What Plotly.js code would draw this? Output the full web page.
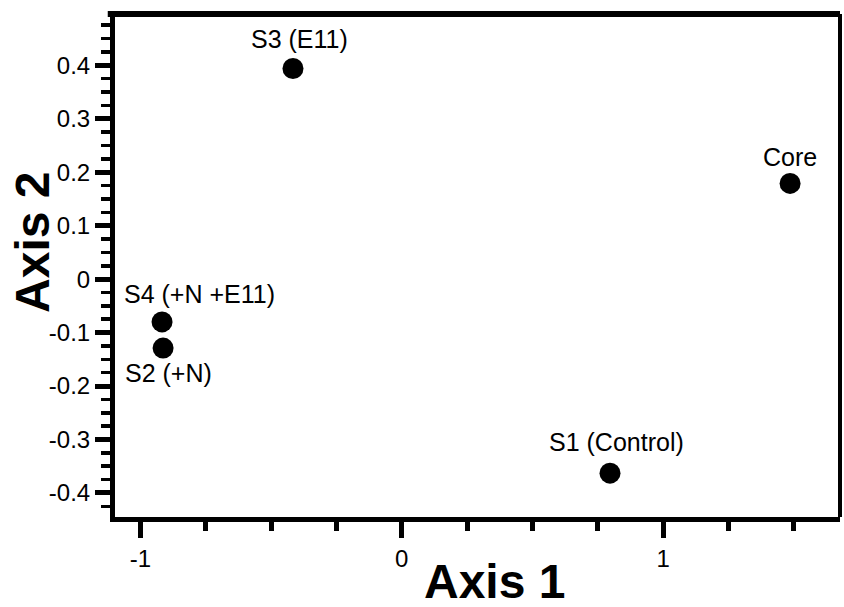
<!DOCTYPE html>
<html>
<head>
<meta charset="utf-8">
<script src="https://cdn.plot.ly/plotly-3.0.1.min.js"></script>
<style>html,body{margin:0;padding:0;background:#fff;}#chart{width:844px;height:607px;}</style>
</head>
<body>
<div id="chart"></div>
<script>
// Data
const sampleNames = ["S3 (E11)", "Core", "S4 (+N +E11)", "S2 (+N)", "S1 (Control)"];
const axis1Values = [-0.416, 1.486, -0.917, -0.913, 0.797];
const axis2Values = [0.394, 0.179, -0.080, -0.129, -0.363];
const xTickVals = [-1, 0, 1];
const xTickText = ["-1", "0", "1"];
const yTickVals = [-0.4, -0.3, -0.2, -0.1, 0, 0.1, 0.2, 0.3, 0.4];
const yTickText = ["-0.4", "-0.3", "-0.2", "-0.1", "0", "0.1", "0.2", "0.3", "0.4"];

// label offsets (pixels) - styling only
const labelShiftX = [7, 0, 37, 5, 6];
const labelShiftY = [30, 26, 28, -25, 31];

const FONT = "Liberation Sans, Arial, sans-serif";

const trace = {
  x: axis1Values,
  y: axis2Values,
  mode: "markers",
  type: "scatter",
  marker: {color: "#000", size: 21},
  hoverinfo: "skip",
  showlegend: false
};

const annotations = sampleNames.map((name, i) => ({
  x: axis1Values[i], y: axis2Values[i], xref: "x", yref: "y",
  text: name, showarrow: false,
  xshift: labelShiftX[i], yshift: labelShiftY[i],
  font: {family: FONT, size: 25, color: "#000"}
}));
annotations.push({
  xref: "paper", yref: "paper", x: 0.523, y: -0.128, xanchor: "center", yanchor: "middle",
  text: "<b>Axis 1</b>", showarrow: false, font: {family: FONT, size: 48, color: "#000"}
});
annotations.push({
  xref: "paper", yref: "paper", x: -0.113, y: 0.545, xanchor: "center", yanchor: "middle",
  text: "<b>Axis 2</b>", showarrow: false, textangle: -90, font: {family: FONT, size: 48, color: "#000"}
});

const layout = {
  width: 844, height: 607,
  margin: {l: 115, r: 4, t: 14, b: 90},
  paper_bgcolor: "#fff", plot_bgcolor: "#fff",
  xaxis: {
    range: [-1.097, 1.677],
    tickmode: "array", tickvals: xTickVals, ticktext: xTickText,
    showgrid: false, zeroline: false,
    showline: true, linecolor: "#000", linewidth: 5,
    ticks: "outside", ticklen: 16, tickwidth: 5, tickcolor: "#000",
    minor: {tickmode: "linear", tick0: 0, dtick: 0.25, ticks: "outside", ticklen: 9, tickwidth: 5, tickcolor: "#000", showgrid: false},
    tickfont: {family: FONT, size: 24, color: "#000"}
  },
  yaxis: {
    range: [-0.445, 0.496],
    tickmode: "array", tickvals: yTickVals, ticktext: yTickText,
    showgrid: false, zeroline: false,
    showline: true, linecolor: "#000", linewidth: 5,
    ticks: "outside", ticklen: 15, tickwidth: 5, tickcolor: "#000",
    minor: {tickmode: "linear", tick0: 0, dtick: 0.025, ticks: "outside", ticklen: 9, tickwidth: 3.5, tickcolor: "#000", showgrid: false},
    tickfont: {family: FONT, size: 24, color: "#000"}
  },
  shapes: [
    {type: "line", xref: "paper", yref: "paper", x0: -0.01, x1: 1, y0: 1, y1: 1, line: {color: "#000", width: 6}},
    {type: "line", xref: "paper", yref: "paper", x0: 1, x1: 1, y0: 0, y1: 1, line: {color: "#000", width: 4}}
  ],
  annotations: annotations
};

Plotly.newPlot("chart", [trace], layout, {displayModeBar: false, staticPlot: true});
</script>
</body>
</html>
